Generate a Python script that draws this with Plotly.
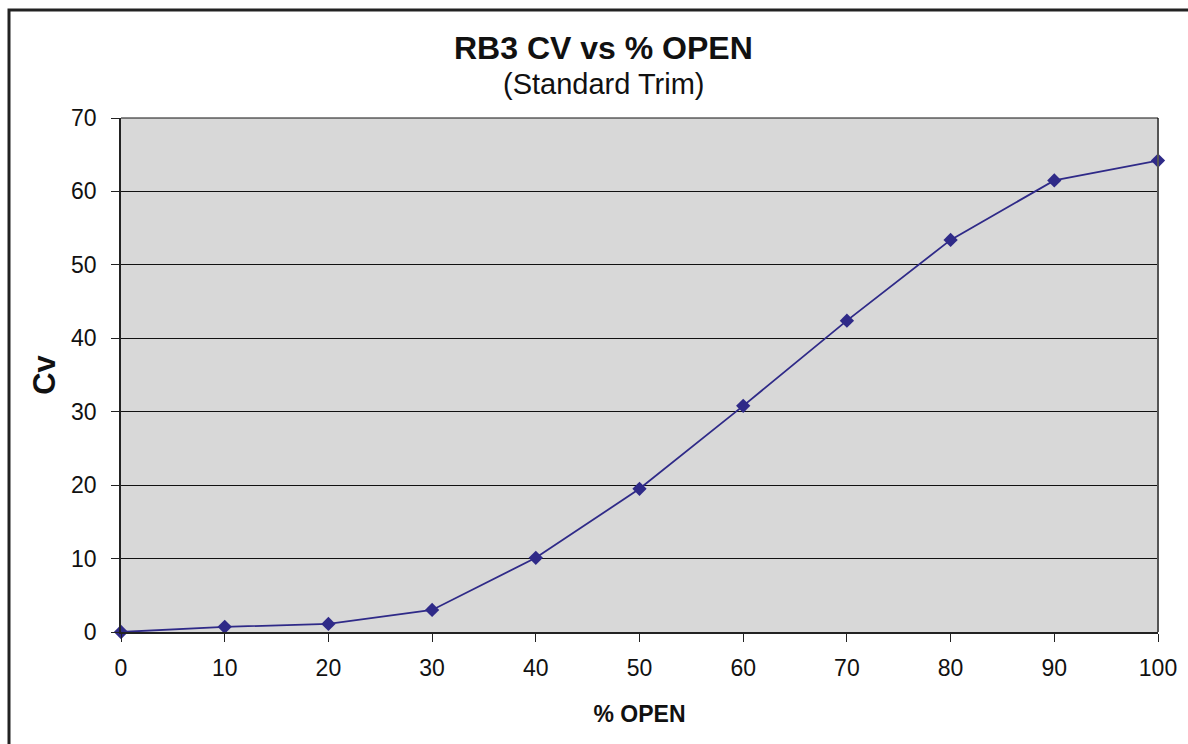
import plotly.graph_objects as go

pct_open = [0, 10, 20, 30, 40, 50, 60, 70, 80, 90, 100]
cv = [0, 0.7, 1.1, 3.0, 10.1, 19.5, 30.8, 42.4, 53.4, 61.5, 64.2]
x_ticks = [0, 10, 20, 30, 40, 50, 60, 70, 80, 90, 100]
y_ticks = [0, 10, 20, 30, 40, 50, 60, 70]

W, H = 1188, 744
L, R, T, B = 121, 30, 118, 112
pw, ph = W - L - R, H - T - B

def px_x(x):
    return (x - L) / pw

def px_y(y):
    return 1 - (y - T) / ph

FONT = "Liberation Sans, Arial, sans-serif"
color = "#2f2a88"

fig = go.Figure()
fig.add_trace(go.Scatter(
    x=pct_open, y=cv, mode="lines+markers",
    line=dict(color=color, width=1.8),
    marker=dict(symbol="diamond", size=11, color=color),
    cliponaxis=False, showlegend=False,
))

fig.update_layout(
    width=W, height=H,
    margin=dict(l=L, r=R, t=T, b=B),
    paper_bgcolor="white", plot_bgcolor="#d8d8d8",
    font=dict(family=FONT, color="#111", size=23),
    xaxis=dict(range=[0, 100], tickvals=x_ticks, showgrid=False, zeroline=False,
               showline=True, linecolor="#222", linewidth=1.5,
               ticks="outside", ticklen=8, tickcolor="#222",
               tickfont=dict(size=23), ticklabelstandoff=7,
               title=dict(text="<b>% OPEN</b>", font=dict(size=23), standoff=26)),
    yaxis=dict(range=[0, 70], tickvals=y_ticks, showgrid=True, gridcolor="#111", gridwidth=1,
               zeroline=False, showline=True, linecolor="#222", linewidth=1.5,
               ticks="outside", ticklen=8, tickcolor="#222",
               tickfont=dict(size=23), ticklabelstandoff=10,
               title=dict(text="<b>Cv</b>", font=dict(size=31), standoff=6)),
)

# right border of plot area
fig.add_shape(type="line", xref="paper", yref="paper", x0=1, x1=1, y0=0, y1=1,
              line=dict(color="#555", width=2))
# top gridline at 70
fig.add_shape(type="line", xref="paper", yref="paper", x0=0, x1=1, y0=1, y1=1,
              line=dict(color="#111", width=1))
# outer frame
fig.add_shape(type="rect", xref="paper", yref="paper",
              x0=px_x(9), x1=px_x(1200), y0=px_y(760), y1=px_y(10),
              line=dict(color="#222", width=3), fillcolor="rgba(0,0,0,0)", layer="above")

fig.add_annotation(text="<b>RB3 CV vs % OPEN</b>", xref="paper", yref="paper",
                   x=px_x(603), y=px_y(48), xanchor="center", yanchor="middle", showarrow=False,
                   font=dict(size=32, family=FONT, color="#111"))
fig.add_annotation(text="(Standard Trim)", xref="paper", yref="paper",
                   x=px_x(603), y=px_y(84), xanchor="center", yanchor="middle", showarrow=False,
                   font=dict(size=29, family=FONT, color="#111"))

fig.write_html("out.html", config={"displayModeBar": False},
               post_script="document.body.style.margin='0';document.body.style.overflow='hidden';")
